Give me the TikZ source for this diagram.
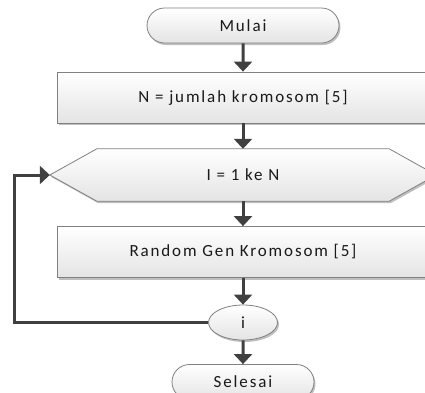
\documentclass[tikz,border=0pt]{standalone}
\usepackage{fontspec}
\setmainfont{Carlito}[LetterSpace=11]
\usetikzlibrary{arrows.meta,shapes.misc,shapes.geometric,shadows,calc}
\pgfdeclarelayer{bg}
\pgfsetlayers{bg,main}
\definecolor{arrowc}{HTML}{404040}
\definecolor{borderc}{HTML}{808080}
\definecolor{fillb}{HTML}{E4E4E4}
\begin{document}
\begin{tikzpicture}[x=1pt,y=-1pt,
  boxlook/.style={draw=borderc, line width=0.8pt, top color=white, bottom color=fillb,
    drop shadow={shadow xshift=1.5pt, shadow yshift=-2pt, opacity=0.25, fill=black}},
  txt/.style={font=\fontsize{17}{20}\selectfont, text=black!90},
  term/.style={boxlook, txt, rounded rectangle, minimum width=192pt, minimum height=35pt, inner sep=0pt},
  proc/.style={boxlook, txt, rectangle, minimum width=372pt, minimum height=51pt, inner sep=0pt},
  conn/.style={boxlook, txt, ellipse, minimum width=69pt, minimum height=35pt, inner sep=0pt},
  arr/.style={draw=arrowc, line width=3pt, -{Triangle[width=18pt,length=10pt]}}]
\useasboundingbox (0,0) rectangle (425,392);

\node[term] (mulai) at (243,25.5) {Mulai};
\node[proc] (r1) at (243,97.5) {N = jumlah kromosom [5]};
\node[txt, minimum width=386pt, minimum height=52pt, inner sep=0pt] (hex) at (243,175) {I = 1 ke N};
\begin{pgfonlayer}{bg}
\path[boxlook] (hex.west) -- ([xshift=47pt]hex.north west) -- ([xshift=-47pt]hex.north east)
  -- (hex.east) -- ([xshift=-47pt]hex.south east) -- ([xshift=47pt]hex.south west) -- cycle;
\end{pgfonlayer}
\node[proc] (r2) at (243,252) {Random Gen Kromosom [5]};
\node[conn] (i) at (243,322.5) {i};
\node[term, minimum width=142pt] (sel) at (243,382) {Selesai};

\coordinate (lp) at (14,0);
\draw[arr] (mulai) -- (r1);
\draw[arr] (r1) -- (hex);
\draw[arr] (hex) -- (r2);
\draw[arr] (r2) -- (i);
\draw[arr] (i) -- (sel);
\draw[arr] (i.west) -- (i.west -| lp) |- (hex.west);
\end{tikzpicture}
\end{document}
